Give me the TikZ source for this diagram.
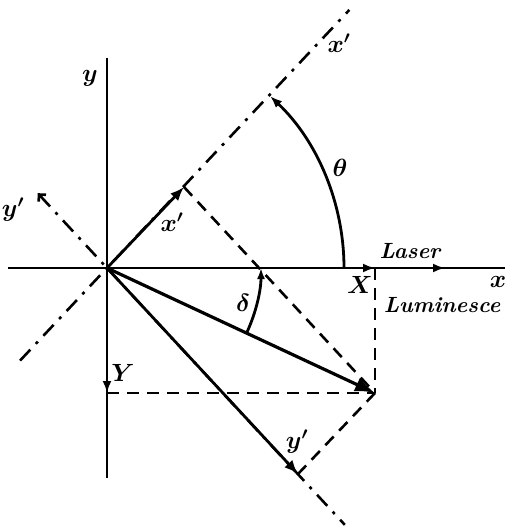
\documentclass[tikz,border=0pt]{standalone}
\usepackage{amsmath}
\usepackage{amssymb}
\usepackage{bm}
\usetikzlibrary{calc, arrows.meta}

\begin{document}
\begin{tikzpicture}[x=1pt, y=1pt,
    axisline/.style={line width=2.8pt},
    vecline/.style={line width=2.8pt, -{Latex[length=14pt, width=11pt]}},
    projline/.style={line width=2.6pt, dash pattern=on 12pt off 8pt},
    rotaxis/.style={line width=2.6pt, dash pattern=on 15pt off 8pt on 3pt off 8pt},
    lbl/.style={font=\fontsize{22}{26}\selectfont\bfseries\itshape},
    mlbl/.style={font=\fontsize{25}{30}\selectfont}]
    \useasboundingbox (-107,-263) rectangle (404,268);

    % points of the construction
    \coordinate (O) at (0,0);
    \coordinate (P) at (268,-125);
    \coordinate (A) at (77,81);
    \coordinate (B) at (191,-206);
    \coordinate (X) at (268,0);
    \coordinate (Y) at (0,-125);
    \coordinate (laser) at (338,0);

    % fixed axes
    \coordinate (xl) at (-99,0);
    \coordinate (xr) at (398,0);
    \coordinate (yt) at (0,210);
    \coordinate (yb) at (0,-210);
    \draw[axisline] (xl) -- (xr);
    \draw[axisline] (yt) -- (yb);
    \draw[axisline, -{Latex[length=12pt, width=9pt]}] (O) -- (X);
    \draw[axisline, -{Latex[length=12pt, width=9pt]}] (X) -- (laser);
    \draw[axisline, -{Latex[length=12pt, width=9pt]}] (O) -- (Y);

    % rotated axes
    \coordinate (xpt) at (46.8:354);
    \coordinate (xpb) at (226.8:127);
    \coordinate (ypt) at (132.8:102);
    \coordinate (ypb) at (-47.2:350);
    \draw[rotaxis] (xpb) -- (xpt);
    \draw[rotaxis, {Straight Barb[length=5pt, width=10pt]}-] (ypt) -- (ypb);

    % vectors
    \draw[vecline] (O) -- (A);
    \draw[vecline] (O) -- (B);
    \draw[line width=3.2pt, -{Latex[length=20pt, width=15pt]}] (O) -- (P);

    % projections
    \draw[projline] (A) -- (P);
    \draw[projline] (P) -- (B);
    \draw[projline] (X) -- (P);
    \draw[projline] (Y) -- (P);

    % angles
    \draw[axisline, -{Latex[length=12pt, width=9pt]}] ($(O)+(237,0)$) arc[start angle=0, end angle=46.5, radius=237];
    \draw[axisline, -{Latex[length=11pt, width=8pt]}] ($(O)+(-25:154)$) arc[start angle=-25, end angle=0, radius=154];

    % labels
    \node[mlbl] at (-17,190) {$\boldsymbol{y}$};
    \node[mlbl] at (-94,58) {$\boldsymbol{y'}$};
    \node[mlbl] at (65,46) {$\boldsymbol{x'}$};
    \node[mlbl] at (232,225) {$\boldsymbol{x'}$};
    \node[mlbl] at (233,100) {$\boldsymbol{\theta}$};
    \node[mlbl] at (136,-35) {$\boldsymbol{\delta}$};
    \node[lbl] at (303,17) {Laser};
    \node[mlbl] at (253,-17) {$\boldsymbol{X}$};
    \node[mlbl] at (391,-14) {$\boldsymbol{x}$};
    \node[lbl] at (335,-37) {Luminesce};
    \node[mlbl] at (16,-105) {$\boldsymbol{Y}$};
    \node[mlbl] at (190,-174) {$\boldsymbol{y'}$};
\end{tikzpicture}
\end{document}
